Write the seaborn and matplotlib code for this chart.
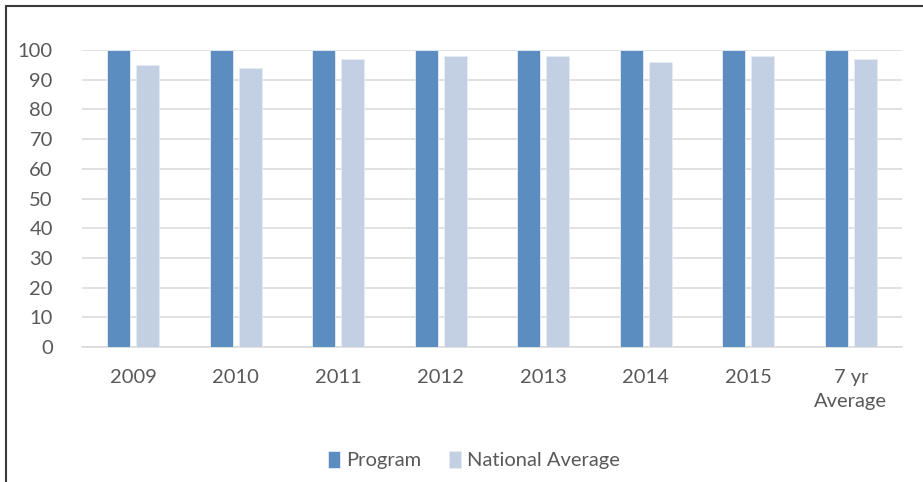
import matplotlib
matplotlib.use("Agg")
import matplotlib.pyplot as plt
import seaborn as sns
import pandas as pd
from matplotlib.patches import Rectangle

categories = ["2009", "2010", "2011", "2012", "2013", "2014", "2015", "7 yr\nAverage"]
program = [100, 100, 100, 100, 100, 100, 100, 100]
national_average = [95, 94, 97, 98, 98, 96, 98, 97]
series_names = ["Program", "National Average"]
colors = ["#5B8DC1", "#C3D0E4"]

df = pd.DataFrame({
    "category": categories * 2,
    "value": program + national_average,
    "series": [series_names[0]] * len(categories) + [series_names[1]] * len(categories),
})

sns.set_theme(style="white")
plt.rcParams["font.family"] = ["Lato", "DejaVu Sans"]

fig = plt.figure(figsize=(9.23, 4.82), dpi=100)
ax = fig.add_axes([82 / 923, 1 - 347 / 482, 820 / 923, 297 / 482])

sns.barplot(data=df, x="category", y="value", hue="series", order=categories,
            hue_order=series_names, palette=colors, width=0.57, gap=0.21,
            edgecolor="#E6ECF5", linewidth=0.6, saturation=1, ax=ax, zorder=3)

ax.set_ylim(0, 100)
ax.set_xlim(-0.5, len(categories) - 0.5)
ax.set_yticks(range(0, 101, 10))
ax.yaxis.grid(True, color="#D9D9D9", linewidth=1.1, zorder=0)
ax.set_axisbelow(True)
for side in ["top", "right", "left"]:
    ax.spines[side].set_visible(False)
ax.spines["bottom"].set_color("#D9D9D9")
ax.spines["bottom"].set_linewidth(1.1)
ax.set_xlabel("")
ax.set_ylabel("")
ax.tick_params(axis="both", length=0, labelsize=14.5, labelcolor="#595959")
ax.tick_params(axis="x", pad=16)
ax.tick_params(axis="y", pad=21)
for lbl in ax.get_xticklabels():
    lbl.set_linespacing(1.5)
for lbl in ax.get_yticklabels():
    lbl.set_horizontalalignment("right")

leg = ax.legend(loc="center", bbox_to_anchor=(474 / 923, 1 - 460 / 482),
                bbox_transform=fig.transFigure, ncol=2, frameon=False,
                fontsize=14.5, handlelength=0.6, handleheight=0.9,
                handletextpad=0.3, columnspacing=1.4)
for t in leg.get_texts():
    t.set_color("#595959")

# outer frame of the chart area
fig.patches.append(Rectangle((6 / 923, -0.1), 1.2, 1 - 6 / 482 + 0.1,
                             transform=fig.transFigure, fill=False,
                             edgecolor="#3A3A3A", linewidth=1.5))

fig.savefig("out.png", dpi=100)
